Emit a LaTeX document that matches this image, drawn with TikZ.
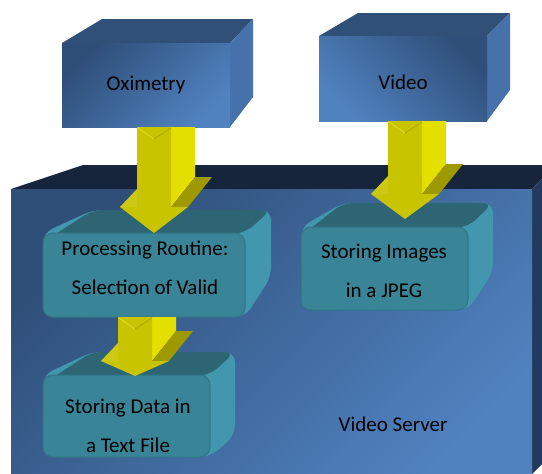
\documentclass[tikz,border=0pt]{standalone}
\usepackage{fontspec}
\setmainfont{Carlito}
\usepackage{tikz}
\usetikzlibrary{calc}
\definecolor{cubeDark}{RGB}{47,79,121}
\definecolor{cubeLight}{RGB}{80,130,192}
\definecolor{cubeTop}{RGB}{48,80,120}
\definecolor{cubeRight}{RGB}{70,113,170}
\definecolor{serverTop}{RGB}{22,37,60}
\definecolor{serverRight}{RGB}{33,58,94}
\definecolor{tealFront}{RGB}{57,132,150}
\definecolor{tealTop}{RGB}{45,101,117}
\definecolor{tealRight}{RGB}{66,150,173}
\definecolor{tealEdge}{RGB}{50,118,135}
\definecolor{yelFront}{RGB}{201,196,0}
\definecolor{yelSide}{RGB}{227,224,0}
\definecolor{yelWing}{RGB}{158,153,0}
\definecolor{yelNotch}{RGB}{222,218,40}

\tikzset{
  boxtext/.style={font=\fontsize{21}{39}\selectfont, align=center, inner sep=0pt, text=black},
  cubeface/.style={shade, top color=cubeDark, bottom color=cubeLight, inner sep=0pt},
  tealface/.style={fill=tealFront, draw=tealEdge, line width=1pt, rounded corners=10pt, inner sep=0pt},
  tealtop/.style={fill=tealTop, rounded corners=10pt},
  tealright/.style={fill=tealRight, rounded corners=10pt},
}

% yellow 3d arrow: #1 top of shaft, #2 tip, #3 head length
\newcommand{\yarrow}[3]{%
  \fill[yelSide] ($(#1)+(17,0)$) -- ($(#1)+(41,0)$) -- ($(#2)+(41,-#3-30)$) -- ($(#2)+(17,-#3)$) -- cycle;
  \fill[yelWing] ($(#2)+(17,-#3)$) -- ($(#2)+(34,-#3)$) -- ($(#2)+(58,-#3-30)$) -- ($(#2)+(41,-#3-30)$) -- cycle;
  \fill[yelFront] ($(#1)+(-17,0)$) -- ($(#1)+(17,0)$) -- ($(#2)+(17,-#3)$) -- ($(#2)+(34,-#3)$)
     -- (#2) -- ($(#2)+(-34,-#3)$) -- ($(#2)+(-17,-#3)$) -- cycle;
  \fill[yelFront!92!white] ($(#2)+(-34,-#3)$) -- ($(#2)+(-17,-#3)$) -- ($(#2)+(-17,-#3-18)$) -- cycle;
  \draw[yelNotch, line width=1pt] ($(#1)+(-16,1)$) -- ($(#1)+(0,12)$);
  \draw[yelFront!85!black, line width=0.8pt] ($(#1)+(0,12)$) -- ($(#1)+(17,1)$);
}

\begin{document}
\begin{tikzpicture}[x=1pt,y=-1pt]
  \useasboundingbox (0,0) rectangle (542,474);
  \clip (0,0) rectangle (542,474);

  % video server block
  \fill[serverTop] (11,189) -- (83,165) -- (556,165) -- (532,189) -- cycle;
  \fill[serverRight] (532,189) -- (556,165) -- (556,450) -- (532,474) -- cycle;
  \node[cubeface, shading angle=45, minimum width=521pt, minimum height=300pt] (serverbox) at (271.5,339) {};
  \node[boxtext] (server) at (393,424) {Video Server};

  % oximetry
  \fill[cubeTop] (62,43) -- (102,19) -- (253,19) -- (230,43) -- cycle;
  \fill[cubeRight] (230,43) -- (253,19) -- (253,97) -- (230,127) -- cycle;
  \node[cubeface, boxtext, shading angle=45, minimum width=168pt, minimum height=84pt] (oxi) at (146,85) {Oximetry};

  % video
  \fill[cubeTop] (319,36) -- (358,13) -- (510,13) -- (487,36) -- cycle;
  \fill[cubeRight] (487,36) -- (510,13) -- (510,90) -- (487,121) -- cycle;
  \node[cubeface, boxtext, text height=22.5pt, shading angle=-45, minimum width=168pt, minimum height=85pt] (video) at (403,78.5) {Video};

  % processing routine
  \fill[tealright] (43,317) -- (43,233) -- (93,210) -- (271,210) -- (271,277) -- (245,317) -- cycle;
  \fill[tealtop] (43,242) -- (93,210) -- (271,210) -- (245,233) -- cycle;
  \node[tealface, minimum width=202pt, minimum height=84pt] (procbox) at (144,275) {};
  \node[boxtext] (proc) at (145,267.5) {Processing Routine:\\Selection of Valid};

  % storing images
  \fill[tealright] (301,310) -- (301,227) -- (343,203) -- (493,203) -- (493,272) -- (468,310) -- cycle;
  \fill[tealtop] (301,236) -- (343,203) -- (493,203) -- (468,227) -- cycle;
  \node[tealface, minimum width=167pt, minimum height=83pt] (imgbox) at (384.5,268.5) {};
  \node[boxtext] (img) at (384,271) {Storing Images\\in a JPEG};

  % storing data
  \fill[tealright] (43,457) -- (43,375) -- (92,352) -- (235,352) -- (235,435) -- (210,457) -- cycle;
  \fill[tealtop] (43,384) -- (92,352) -- (235,352) -- (210,375) -- cycle;
  \node[tealface, minimum width=167pt, minimum height=82pt] (databox) at (126.5,416) {};
  \node[boxtext] (data) at (128,425.5) {Storing Data in\\a Text File};

  % arrows
  \coordinate (a1) at (154,127);
  \coordinate (a1tip) at (154,233);
  \coordinate (a2) at (405,121);
  \coordinate (a2tip) at (405,219);
  \coordinate (a3) at (135,317);
  \coordinate (a3tip) at (135,376);
  \yarrow{a1}{a1tip}{26}
  \yarrow{a2}{a2tip}{25}
  \yarrow{a3}{a3tip}{15}
\end{tikzpicture}
\end{document}
